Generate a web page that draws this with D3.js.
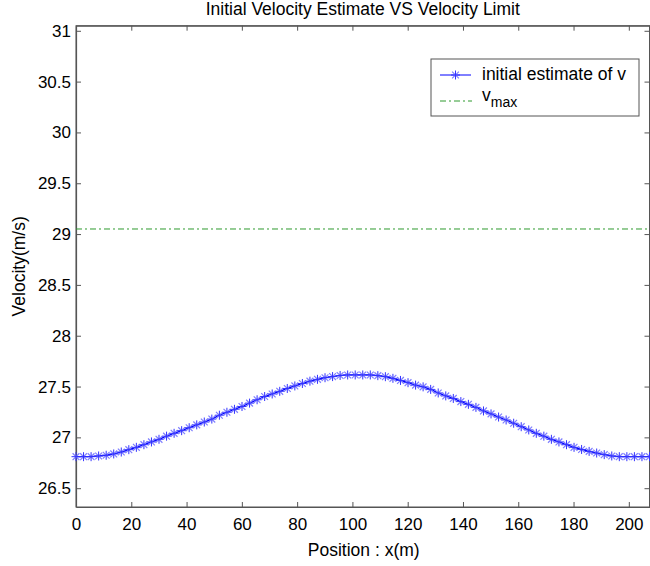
<!DOCTYPE html>
<html>
<head>
<meta charset="utf-8">
<script src="https://cdn.jsdelivr.net/npm/d3@7"></script>
<style>
  html, body { margin: 0; padding: 0; background: #fff; }
  svg { display: block; font-family: "Liberation Sans", Arial, sans-serif; }
</style>
</head>
<body>
<svg id="chart" width="650" height="566"></svg>
<script>
// ---- data ----
const positions = [0, 2.73, 5.46, 8.19, 10.92, 13.65, 16.38, 19.11, 21.84, 24.57, 27.3, 30.03, 32.76, 35.49, 38.22, 40.95, 43.68, 46.41, 49.14, 51.87, 54.6, 57.33, 60.06, 62.79, 65.52, 68.25, 70.98, 73.71, 76.44, 79.17, 81.9, 84.63, 87.36, 90.09, 92.82, 95.55, 98.28, 101.01, 103.74, 106.47, 109.2, 111.93, 114.66, 117.39, 120.12, 122.85, 125.58, 128.31, 131.04, 133.77, 136.5, 139.23, 141.96, 144.69, 147.42, 150.15, 152.88, 155.61, 158.34, 161.07, 163.8, 166.53, 169.26, 171.99, 174.72, 177.45, 180.18, 182.91, 185.64, 188.37, 191.1, 193.83, 196.56, 199.29, 202.02, 204.75, 207.48];
const initialEstimate = [26.810, 26.810, 26.810, 26.817, 26.824, 26.837, 26.856, 26.879, 26.902, 26.928, 26.955, 26.981, 27.012, 27.040, 27.066, 27.095, 27.123, 27.151, 27.180, 27.218, 27.247, 27.276, 27.304, 27.337, 27.370, 27.402, 27.427, 27.453, 27.481, 27.506, 27.530, 27.553, 27.571, 27.587, 27.598, 27.609, 27.614, 27.614, 27.614, 27.614, 27.607, 27.597, 27.581, 27.560, 27.538, 27.514, 27.497, 27.472, 27.437, 27.408, 27.383, 27.352, 27.325, 27.295, 27.260, 27.231, 27.200, 27.171, 27.139, 27.105, 27.073, 27.040, 27.012, 26.981, 26.955, 26.928, 26.902, 26.881, 26.862, 26.846, 26.830, 26.817, 26.810, 26.810, 26.810, 26.810, 26.810];
const vmax = 29.05;
const xTicks = [0, 20, 40, 60, 80, 100, 120, 140, 160, 180, 200];
const yTicks = [26.5, 27, 27.5, 28, 28.5, 29, 29.5, 30, 30.5, 31];
const xDomain = [0, 207.48];
const yDomain = [26.315, 31.05];
const titleText = "Initial Velocity Estimate VS Velocity Limit";
const xLabel = "Position : x(m)";
const yLabel = "Velocity(m/s)";
const legendLabels = ["initial estimate of v", "v", "max"];

// ---- layout ----
const L = 76, R = 649.5, T = 25.7, B = 507;
const svg = d3.select("#chart");
const x = d3.scaleLinear().domain(xDomain).range([L, R]);
const y = d3.scaleLinear().domain(yDomain).range([B, T]);

const axisColor = "#555";
const tickLen = 5;

// box
svg.append("rect").attr("x", L).attr("y", T).attr("width", R - L).attr("height", B - T)
  .attr("fill", "#fff").attr("stroke", axisColor).attr("stroke-width", 1);

// axes (inward ticks), using d3 axes
const gx = svg.append("g").attr("transform", `translate(0,${B})`)
  .call(d3.axisBottom(x).tickValues(xTicks).tickSizeInner(-tickLen).tickSizeOuter(0).tickPadding(10).tickFormat(d3.format("d")));
const gxTop = svg.append("g").attr("transform", `translate(0,${T})`)
  .call(d3.axisTop(x).tickValues(xTicks).tickSizeInner(-tickLen).tickSizeOuter(0).tickFormat(""));
const gy = svg.append("g").attr("transform", `translate(${L},0)`)
  .call(d3.axisLeft(y).tickValues(yTicks).tickSizeInner(-tickLen).tickSizeOuter(0).tickPadding(10).tickFormat(d => String(d)));
const gyR = svg.append("g").attr("transform", `translate(${R},0)`)
  .call(d3.axisRight(y).tickValues(yTicks).tickSizeInner(-tickLen).tickSizeOuter(0).tickFormat(""));

[gx, gxTop, gy, gyR].forEach(g => {
  g.select(".domain").attr("stroke", axisColor).attr("stroke-width", 1.2);
  g.selectAll(".tick line").attr("stroke", axisColor);
  g.selectAll("text").attr("fill", "#000").attr("font-size", 17)
    .attr("font-family", "'Liberation Sans', Arial, sans-serif");
});
gy.selectAll("text").attr("x", -5);
gx.selectAll("text").attr("dy", "0.71em").attr("y", 11);

// vmax line
svg.append("line").attr("x1", L).attr("x2", R).attr("y1", y(vmax)).attr("y2", y(vmax))
  .attr("stroke", "#2e9a2e").attr("stroke-width", 1).attr("stroke-dasharray", "6,3,2,3");

// initial estimate line
const pts = positions.map((p, i) => [p, initialEstimate[i]]);
const line = d3.line().x(d => x(d[0])).y(d => y(d[1]));
svg.append("path").datum(pts).attr("d", line).attr("fill", "none")
  .attr("stroke", "#0000ff").attr("stroke-width", 1.3);

function starMarker(g, cx, cy) {
  const a = 4.5, b = 3.4;
  g.append("path").attr("d", `M${cx - b},${cy - b}L${cx + b},${cy + b}M${cx - b},${cy + b}L${cx + b},${cy - b}`)
    .attr("stroke", "#7f7fff").attr("stroke-width", 1.2).attr("fill", "none");
  g.append("path").attr("d", `M${cx - a},${cy}L${cx + a},${cy}M${cx},${cy - a}L${cx},${cy + a}`)
    .attr("stroke", "#3333ff").attr("stroke-width", 1).attr("fill", "none");
}
const mg = svg.append("g");
pts.forEach(d => starMarker(mg, x(d[0]), y(d[1])));

// title
svg.append("text").attr("x", (L + R) / 2).attr("y", 15).attr("text-anchor", "middle")
  .attr("font-size", 17.5).attr("fill", "#000").text(titleText);

// axis labels
svg.append("text").attr("x", (L + R) / 2 + 1).attr("y", 556).attr("text-anchor", "middle")
  .attr("font-size", 17.5).attr("fill", "#000").text(xLabel);
svg.append("text").attr("transform", `translate(25,${(T + B) / 2}) rotate(-90)`)
  .attr("text-anchor", "middle").attr("font-size", 17.5).attr("fill", "#000").text(yLabel);

// legend
const lg = svg.append("g");
lg.append("rect").attr("x", 431).attr("y", 59).attr("width", 208).attr("height", 57)
  .attr("fill", "#fff").attr("stroke", "#555").attr("stroke-width", 1);
lg.append("line").attr("x1", 440).attr("x2", 471).attr("y1", 75).attr("y2", 75)
  .attr("stroke", "#0000ff").attr("stroke-width", 1);
starMarker(lg, 455.5, 75);
lg.append("text").attr("x", 482).attr("y", 80).attr("font-size", 17.5).attr("fill", "#000").text(legendLabels[0]);
lg.append("line").attr("x1", 440).attr("x2", 472).attr("y1", 101).attr("y2", 101)
  .attr("stroke", "#2e9a2e").attr("stroke-width", 1).attr("stroke-dasharray", "6,3,2,3");
const vt = lg.append("text").attr("x", 482).attr("y", 100.5).attr("font-size", 17.5).attr("fill", "#000");
vt.append("tspan").text(legendLabels[1]);
vt.append("tspan").attr("dy", 6.5).attr("font-size", 14).text(legendLabels[2]);
</script>
</body>
</html>
